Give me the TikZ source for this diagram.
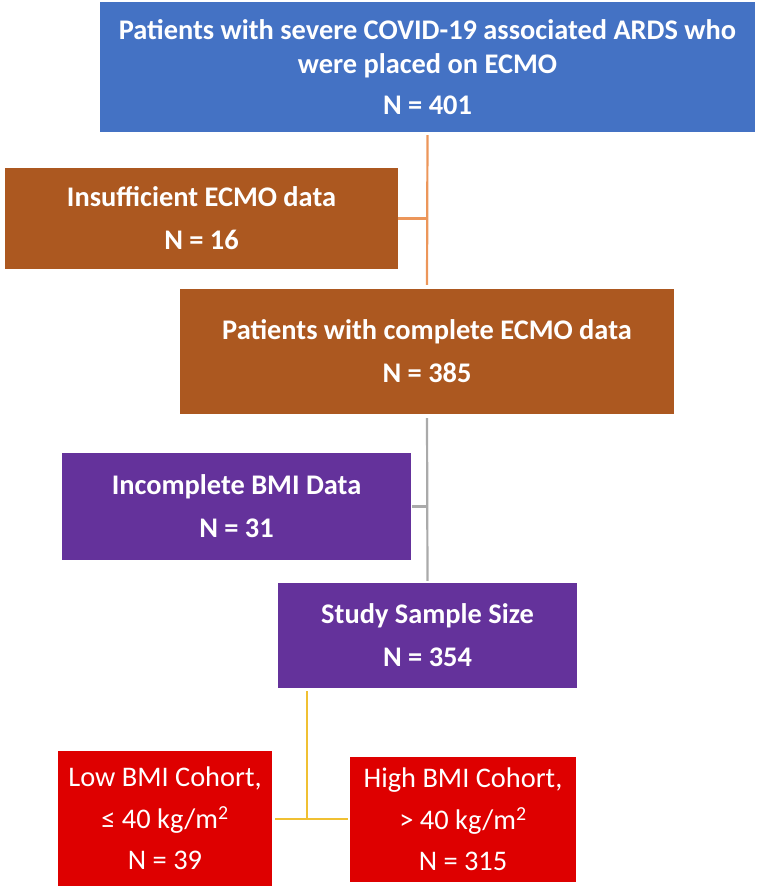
\documentclass[tikz,border=0pt]{standalone}
\usepackage{fontspec}
\setmainfont{Carlito}
\definecolor{boxblue}{RGB}{68,114,196}
\definecolor{boxbrown}{RGB}{172,88,32}
\definecolor{boxpurple}{RGB}{100,50,155}
\definecolor{boxred}{RGB}{222,0,0}
\definecolor{lineorange}{RGB}{236,150,90}
\definecolor{linegray}{RGB}{170,170,170}
\definecolor{lineyellow}{RGB}{240,192,50}
\tikzset{
  fbox/.style={rectangle, inner sep=0pt, text=white, align=center,
    font=\bfseries\fontsize{28.4}{43}\selectfont},
  rbox/.style={rectangle, inner sep=0pt, text=white, align=center, fill=boxred,
    font=\fontsize{28.4}{41.5}\selectfont},
  conn/.style={line width=2.2pt}
}
\begin{document}
\begin{tikzpicture}[x=1pt,y=-1pt]
\useasboundingbox (0,0) rectangle (758,890);
\node[fbox, fill=boxblue, minimum width=655pt, minimum height=130pt,
  font=\bfseries\fontsize{28.4}{34}\selectfont] (blue) at (427.5,67)
  {Patients with severe COVID-19 associated ARDS who\\were placed on ECMO\\[7pt]N = 401};
\node[fbox, fill=boxbrown, minimum width=393pt, minimum height=101pt] (insuf) at (201.5,218.5)
  {Insufficient ECMO data\\N = 16};
\node[fbox, fill=boxbrown, minimum width=494pt, minimum height=125pt] (complete) at (427,351.5)
  {Patients with complete ECMO data\\N = 385};
\node[fbox, fill=boxpurple, minimum width=349pt, minimum height=107pt] (incomplete) at (236.5,506.5)
  {Incomplete BMI Data\\N = 31};
\node[fbox, fill=boxpurple, minimum width=299pt, minimum height=105pt] (study) at (427.5,635.5)
  {Study Sample Size\\N = 354};
\node[rbox, minimum width=214pt, minimum height=135pt] (low) at (165,818.5)
  {Low BMI Cohort,\\≤ 40 kg/m\textsuperscript{2}\\N = 39};
\node[rbox, minimum width=226pt, minimum height=125pt] (high) at (463,819.5)
  {High BMI Cohort,\\> 40 kg/m\textsuperscript{2}\\N = 315};
\coordinate (yj) at (307,819);
% connectors
\draw[conn, lineorange, shorten <=3pt, shorten >=4pt] (blue.south) -- (complete.north);
\draw[conn, lineorange] (insuf.east) -- (insuf.east -| blue.south);
\draw[conn, linegray, shorten <=4pt, shorten >=2pt] (complete.south) -- (study.north);
\draw[conn, linegray, shorten <=1pt] (incomplete.east) -- (incomplete.east -| complete.south);
\draw[conn, lineyellow, shorten <=3pt] (study.south -| yj) -- (yj);
\draw[conn, lineyellow, shorten <=3pt, shorten >=2pt] (low.east |- yj) -- (high.west |- yj);
\end{tikzpicture}
\end{document}
